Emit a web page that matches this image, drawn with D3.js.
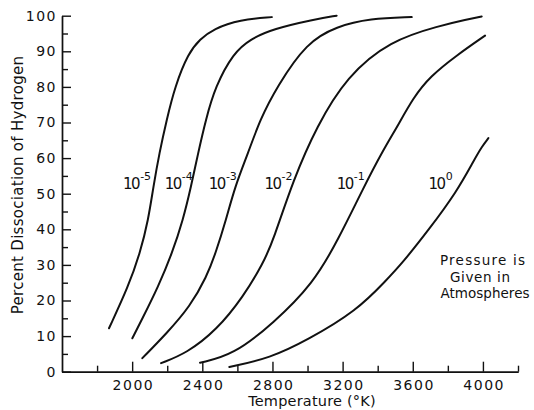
<!DOCTYPE html>
<html><head><meta charset="utf-8">
<script src="https://cdn.jsdelivr.net/npm/d3@7"></script>
<style>body{margin:0;background:#fff}</style>
</head><body>
<script>
// ---- data ----
const xTicksMajor = [2000, 2400, 2800, 3200, 3600, 4000];
const xTicksMinor = [1800, 2200, 2600, 3000, 3400, 3800, 4200];
const yTicksMajor = [0, 10, 20, 30, 40, 50, 60, 70, 80, 90, 100];
const yTicksMinor = [5, 15, 25, 35, 45, 55, 65, 75, 85, 95];
const exponents = ["-5", "-4", "-3", "-2", "-1", "0"];

const tempsE5 = [1868, 1978, 2045, 2092, 2121, 2155, 2197, 2244, 2320, 2387, 2463, 2615, 2796];
const pctE5   = [12.2, 23.9, 33.3, 42.6, 52.0, 61.4, 70.8, 80.1, 89.5, 93.4, 96.3, 98.9, 99.6];
const tempsE4 = [2001, 2054, 2149, 2228, 2290, 2336, 2376, 2420, 2474, 2577, 2672, 2805, 3033, 3166];
const pctE4   = [9.4, 14.5, 23.9, 33.3, 42.6, 52.0, 61.4, 70.8, 80.1, 89.5, 93.4, 96.3, 98.9, 100];
const tempsE3 = [2058, 2197, 2330, 2425, 2476, 2535, 2586, 2661, 2729, 2826, 2995, 3166, 3356, 3594];
const pctE3   = [3.8, 10.8, 18.3, 26.7, 33.3, 42.6, 52.0, 61.4, 70.8, 80.1, 92.5, 97.0, 99.2, 99.6];
const tempsE2 = [2165, 2311, 2482, 2634, 2748, 2805, 2919, 3052, 3223, 3470, 3755, 3908, 3993];
const pctE2   = [2.4, 5.2, 11.7, 21.1, 30.5, 37.0, 53.9, 68.9, 82.9, 93.0, 97.2, 98.9, 99.8];
const tempsE1 = [2387, 2577, 2805, 3033, 3174, 3322, 3432, 3508, 3603, 3700, 3851, 4012];
const pctE1   = [2.5, 4.7, 13.6, 24.8, 37.0, 52.0, 62.3, 68.5, 77.0, 83.0, 88.9, 94.4];
const tempsE0 = [2554, 2786, 3000, 3280, 3451, 3540, 3690, 3850, 3950, 3995, 4031];
const pctE0   = [1.3, 3.8, 8.9, 17.1, 25.8, 30.5, 39.8, 50.5, 59.5, 63.3, 65.6];

const labelTemps = [1948, 2186, 2437, 2754, 3166, 3690];
const labelPct = 51.4;
const noteLines = ["Pressure is", "Given in", "Atmospheres"];

// ---- chart ----
const W = 534, H = 410;
const FONT = "'DejaVu Sans', sans-serif";
const svg = d3.select("body").append("svg").attr("width", W).attr("height", H)
  .style("font-family", FONT);

const x = d3.scaleLinear().domain([1600, 4200]).range([62, 518]);
const y = d3.scaleLinear().domain([0, 100]).range([371.7, 15.7]);

function styleAxis(g) {
  g.attr("font-family", FONT).attr("font-size", 14);
  g.selectAll("path, line").attr("stroke", "#111").attr("stroke-width", 1.4);
  g.selectAll("text").attr("fill", "#111").style("letter-spacing", "1.5px");
}

// x axis
svg.append("g").attr("transform", "translate(0,371.7)")
  .call(d3.axisBottom(x).tickValues(xTicksMinor).tickSize(-6).tickSizeOuter(0).tickFormat(""))
  .call(styleAxis);
svg.append("g").attr("transform", "translate(0,371.7)")
  .call(d3.axisBottom(x).tickValues(xTicksMajor).tickSize(-10).tickSizeOuter(0).tickPadding(8).tickFormat(d3.format("d")))
  .call(styleAxis)
  .call(g => g.selectAll("text").attr("dx", "0.75px"));

// y axis
svg.append("g").attr("transform", "translate(62,0)")
  .call(d3.axisLeft(y).tickValues(yTicksMinor).tickSize(-6).tickSizeOuter(0).tickFormat(""))
  .call(styleAxis);
svg.append("g").attr("transform", "translate(62,0)")
  .call(d3.axisLeft(y).tickValues(yTicksMajor).tickSize(-9).tickSizeOuter(0).tickPadding(5).tickFormat(d3.format("d")))
  .call(styleAxis);

// curves
const series = [
  [tempsE5, pctE5], [tempsE4, pctE4], [tempsE3, pctE3],
  [tempsE2, pctE2], [tempsE1, pctE1], [tempsE0, pctE0]
].map(([t, p]) => t.map((v, i) => [v, p[i]]));

const line = d3.line().x(d => x(d[0])).y(d => y(d[1])).curve(d3.curveBasis);
svg.append("g").selectAll("path").data(series).join("path")
  .attr("d", line).attr("fill", "none").attr("stroke", "#111")
  .attr("stroke-width", 2).attr("stroke-linecap", "round");

// curve labels
const lbl = svg.append("g").attr("fill", "#111");
exponents.forEach((e, i) => {
  const t = lbl.append("text").attr("x", x(labelTemps[i])).attr("y", y(labelPct))
    .attr("font-size", 15);
  t.append("tspan").style("letter-spacing", "-1.5px").text("10");
  t.append("tspan").attr("dx", 1).attr("dy", -9).attr("font-size", 11).text(e);
});

// note
const noteX = [440, 450, 440.5];
const noteW = [85, 60, 89];
svg.append("g").attr("font-size", 13.5).attr("fill", "#111")
  .selectAll("text").data(noteLines).join("text")
  .attr("x", (d, i) => noteX[i])
  .attr("y", (d, i) => 265 + i * 16.7)
  .attr("textLength", (d, i) => noteW[i])
  .attr("lengthAdjust", "spacing")
  .text(d => d);

// axis titles
svg.append("text").attr("x", 312).attr("y", 406).attr("text-anchor", "middle")
  .attr("font-size", 14.5).attr("fill", "#111").style("letter-spacing", "0.2px")
  .text("Temperature (°K)");
svg.append("text").attr("transform", "translate(23,185) rotate(-90)")
  .attr("text-anchor", "middle").attr("font-size", 15).attr("fill", "#111")
  .style("letter-spacing", "0.3px")
  .text("Percent Dissociation of Hydrogen");
</script>
</body></html>
